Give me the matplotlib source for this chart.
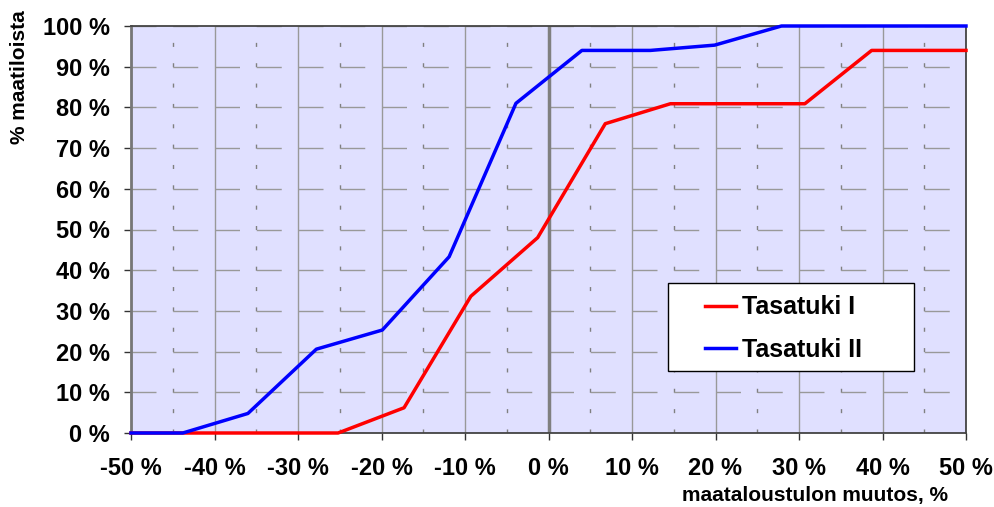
import matplotlib
matplotlib.use("Agg")
import matplotlib.pyplot as plt
from matplotlib.patches import Rectangle
from matplotlib.ticker import FixedLocator, FixedFormatter

plt.rcParams['font.family'] = ['Liberation Sans', 'DejaVu Sans']
plt.rcParams['font.weight'] = 'bold'

# Cumulative share of farms by change in farm income
x_tasatuki_1 = [-50, -25.2, -17.3, -9.3, -1.3, 6.8, 14.6, 30.7, 38.7, 50]
y_tasatuki_1 = [0, 0, 6.2, 33.6, 48.0, 76.0, 80.9, 80.9, 94.0, 94.0]

x_tasatuki_2 = [-50, -43.8, -36.0, -27.8, -19.9, -11.9, -3.9, 4.0, 12.2, 19.9, 27.9, 50]
y_tasatuki_2 = [0, 0, 4.8, 20.6, 25.3, 43.3, 81.0, 94.0, 94.0, 95.3, 100, 100]

series_labels = ["Tasatuki I", "Tasatuki II"]
x_ticks = [-50, -40, -30, -20, -10, 0, 10, 20, 30, 40, 50]
x_tick_labels = ["-50 %", "-40 %", "-30 %", "-20 %", "-10 %", "0 %",
                 "10 %", "20 %", "30 %", "40 %", "50 %"]
x_minor = [-45, -35, -25, -15, -5, 5, 15, 25, 35, 45]
y_ticks = [0, 10, 20, 30, 40, 50, 60, 70, 80, 90, 100]
y_tick_labels = ["0 %", "10 %", "20 %", "30 %", "40 %", "50 %",
                 "60 %", "70 %", "80 %", "90 %", "100 %"]

W, H = 994, 507
fig = plt.figure(figsize=(W / 100, H / 100), dpi=100)
ax_l, ax_r, ax_t, ax_b = 131, 966, 26, 433
ax = fig.add_axes([ax_l / W, 1 - ax_b / H, (ax_r - ax_l) / W, (ax_b - ax_t) / H])
ax.set_facecolor('#E0E0FF')
ax.set_xlim(-50, 50)
ax.set_ylim(0, 100)


def ax_frac(px, py):
    """Pixel position in the figure -> axes fraction."""
    return (px - ax_l) / (ax_r - ax_l), (ax_b - py) / (ax_b - ax_t)


ax.xaxis.set_major_locator(FixedLocator(x_ticks))
ax.xaxis.set_major_formatter(FixedFormatter(x_tick_labels))
ax.xaxis.set_minor_locator(FixedLocator(x_minor))
ax.yaxis.set_major_locator(FixedLocator(y_ticks))
ax.yaxis.set_major_formatter(FixedFormatter(y_tick_labels))

ax.tick_params(axis='both', which='major', labelsize=17, direction='out',
               length=5, width=1, color='#333333')
ax.tick_params(axis='x', which='major', pad=12)
ax.tick_params(axis='y', which='major', pad=10)
ax.tick_params(axis='x', which='minor', length=0)

ax.set_axisbelow(True)
ax.xaxis.grid(True, which='major', color='#999999', linewidth=1.0, linestyle='-')
ax.xaxis.grid(True, which='minor', color='#808080', linewidth=1.0,
              linestyle=(0, (2.9, 11.75)))
ax.yaxis.grid(True, which='major', color='#999999', linewidth=1.0,
              linestyle=(0, (18, 12.06)))
ax.axvline(0, color='#808080', linewidth=2.5, zorder=1.5)

for side in ['left', 'bottom', 'top', 'right']:
    ax.spines[side].set_color('#444444')
    ax.spines[side].set_linewidth(1.3)
ax.spines['left'].set_color('#777777')
ax.spines['left'].set_linewidth(2.0)

ax.plot(x_tasatuki_1, y_tasatuki_1, color='#FF0000', linewidth=2.5,
        label=series_labels[0], zorder=3, clip_on=False)
ax.plot(x_tasatuki_2, y_tasatuki_2, color='#0000FF', linewidth=2.5,
        label=series_labels[1], zorder=3, clip_on=False)

# Legend box
bx0, by0 = ax_frac(668, 371)
bx1, by1 = ax_frac(914, 283)
ax.add_patch(Rectangle((bx0, by0), bx1 - bx0, by1 - by0, transform=ax.transAxes,
                       facecolor='white', edgecolor='black', linewidth=1.0,
                       zorder=4))
lx, ly = ax_frac(705, 328.5)
leg = ax.legend(loc='center left', bbox_to_anchor=(lx, ly), frameon=False,
                fontsize=18, handlelength=1.25, handletextpad=0.25,
                borderpad=0, labelspacing=0.74, borderaxespad=0)
leg.set_zorder(5)

fig.text(20 / W, 1 - 77 / H, "% maatiloista", rotation=90, fontsize=15,
         fontweight='bold', ha='center', va='center')
fig.text(815 / W, 1 - 496 / H, "maataloustulon muutos, %", fontsize=15,
         fontweight='bold', ha='center', va='center')

fig.savefig("out.png", dpi=100)
